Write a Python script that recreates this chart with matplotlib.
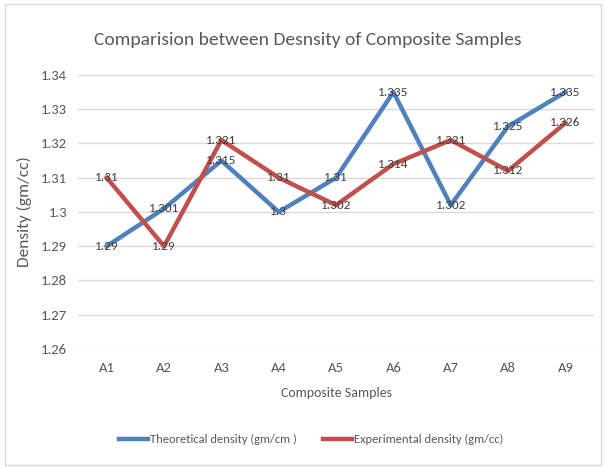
import matplotlib.pyplot as plt
from matplotlib.patches import Rectangle

plt.rcParams['font.family'] = ['Carlito', 'DejaVu Sans']

samples = ['A1', 'A2', 'A3', 'A4', 'A5', 'A6', 'A7', 'A8', 'A9']
theoretical = [1.29, 1.301, 1.315, 1.3, 1.31, 1.335, 1.302, 1.325, 1.335]
experimental = [1.31, 1.29, 1.321, 1.31, 1.302, 1.314, 1.321, 1.312, 1.326]
y_ticks = [1.26, 1.27, 1.28, 1.29, 1.3, 1.31, 1.32, 1.33, 1.34]
y_tick_labels = ['1.26', '1.27', '1.28', '1.29', '1.3', '1.31', '1.32', '1.33', '1.34']

blue = '#4F81BD'
red = '#C0504D'
grey_text = '#595959'

fig = plt.figure(figsize=(6.05, 4.68), dpi=100)
fig.patches.append(Rectangle((0.008, 0.006), 0.985, 0.985, transform=fig.transFigure,
                             fill=False, edgecolor='#D9D9D9', linewidth=1))

ax = fig.add_axes([0.129, 0.2543, 0.853, 0.5855])
x = range(len(samples))
ax.plot(x, theoretical, color=blue, linewidth=3.2, label='Theoretical density (gm/cm )', zorder=3)
ax.plot(x, experimental, color=red, linewidth=3.2, label='Experimental density (gm/cc)', zorder=3)

# data labels centred on each point
for i, v in enumerate(theoretical):
    ax.text(i, v, f'{v:g}', ha='center', va='center', fontsize=9.5, color='#404040', zorder=4)
for i, v in enumerate(experimental):
    ax.text(i, v, f'{v:g}', ha='center', va='center', fontsize=9.5, color='#404040', zorder=4)

ax.set_xlim(-0.5, len(samples) - 0.5)
ax.set_ylim(1.26, 1.34)
ax.set_yticks(y_ticks)
ax.set_yticklabels(y_tick_labels)
ax.set_xticks(list(x))
ax.set_xticklabels(samples)
ax.grid(axis='y', color='#D9D9D9', linewidth=1)
ax.set_axisbelow(True)
for s in ax.spines.values():
    s.set_visible(False)
ax.tick_params(length=0, labelsize=10.5, labelcolor=grey_text, pad=9.5)
ax.tick_params(axis='y', pad=8)

ax.set_xlabel('Composite Samples', fontsize=10, color=grey_text, labelpad=9)
ax.set_ylabel('Density (gm/cc)', fontsize=12.5, color=grey_text, labelpad=6)

fig.text(0.509, 0.915, 'Comparision between Desnsity of Composite Samples',
         ha='center', va='center', fontsize=14, color=grey_text)

fig.legend(loc='center', bbox_to_anchor=(0.514, 0.06), ncol=2, frameon=False,
           fontsize=9, labelcolor=grey_text, handlelength=2.3, handletextpad=0.15,
           columnspacing=2.15)

fig.savefig('out.png', dpi=100)
